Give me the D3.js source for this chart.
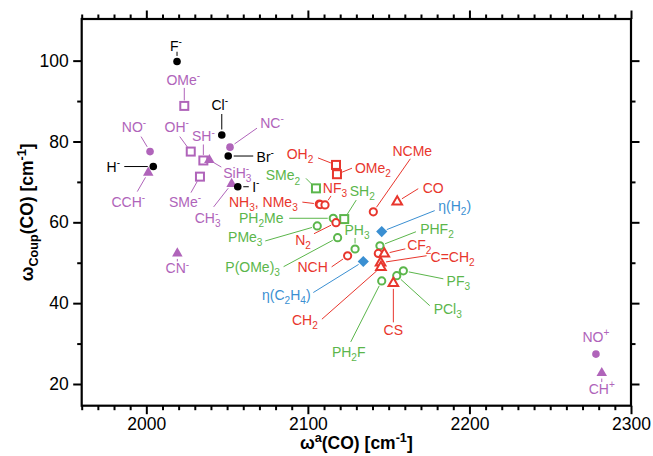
<!DOCTYPE html>
<html>
<head>
<meta charset="utf-8">
<script src="https://cdn.jsdelivr.net/npm/d3@7"></script>
<style>
  body { margin: 0; background: #fff; }
  svg { font-family: "Liberation Sans", Arial, Helvetica, sans-serif; }
</style>
</head>
<body>
<div id="chart"></div>
<script>
// each entry: [label, omega_a(CO) in cm-1, omega_Coup(CO) in cm-1]
const halideAnions = [["F^-", 2019.0, 99.8], ["Cl^-", 2046.7, 81.6], ["Br^-", 2050.7, 76.4],
                      ["H^-", 2004.3, 73.8], ["I^-", 2056.6, 68.8]];
const ionCircles = [["NO^-", 2002.3, 77.5], ["NC^-", 2051.8, 78.6], ["NO^+", 2278.3, 27.4]];
const anionSquares = [["OMe^-", 2023.5, 88.8], ["OH^-", 2027.5, 77.5], ["SH^-", 2035.3, 75.3],
                      ["SMe^-", 2033.2, 71.3]];
const ionTriangles = [["SiH_3^-", 2039.0, 75.4], ["CCH^-", 2001.2, 72.3], ["CH_3^-", 2052.8, 69.5],
                      ["CN^-", 2019.2, 52.3], ["CH^+", 2281.9, 22.7]];
const nDonors = [["NH_3, NMe_3", 2107.1, 64.5], ["", 2107.6, 64.4], ["NF_3", 2110.6, 64.3],
                 ["N_2", 2117.4, 59.9], ["NCH", 2124.6, 51.7], ["NCMe", 2140.5, 62.6], ["", 2143.6, 52.3]];
const oDonors = [["OH_2", 2117.4, 74.2], ["OMe_2", 2118.0, 71.9]];
const cDonors = [["CO", 2155.3, 65.1], ["CF_2", 2147.3, 52.2], ["C=CH_2", 2145.0, 50.0],
                 ["CH_2", 2145.2, 48.9], ["CS", 2152.9, 44.9]];
const pDonors = [["PH_2Me", 2115.7, 61.0], ["PMe_3", 2105.8, 59.1], ["P(OMe)_3", 2118.4, 56.2],
                 ["PH_3", 2129.2, 53.4], ["PHF_2", 2144.6, 54.2], ["PH_2F", 2145.7, 45.5],
                 ["PCl_3", 2155.0, 46.8], ["PF_3", 2159.1, 48.0]];
const sDonors = [["SMe_2", 2105.0, 68.4], ["SH_2", 2122.5, 60.8]];
const etaLigands = [["η(H_2)", 2145.7, 57.7], ["η(C_2H_4)", 2134.3, 50.3]];

const xTicks = [2000, 2100, 2200, 2300];
const yTicks = [20, 40, 60, 80, 100];

// label placement: [label dx, label dy, leader end dx, leader end dy] in px from the point
const labelLayout = {
  "F^-": [-1, -15.7, 0, -9.7], "Cl^-": [-2, -30, 0, -21], "Br^-": [37, 1, 25, 0],
  "H^-": [-40, 0, -29, 0], "I^-": [18, 0, 11, 0],
  "NO^-": [-16, -25, -9, -15], "NC^-": [42, -24, 27, -19], "NO^+": [0, -17, null, null],
  "OMe^-": [-1, -26, 0, -18], "OH^-": [-14, -25, -11, -15], "SH^-": [0, -24, 0, -16],
  "SMe^-": [-15, 25, -9, 16], "SiH_3^-": [28, 13, 12, 7], "CCH^-": [-20, 29, -11, 19],
  "CH_3^-": [-24, 34, -18, 23], "CN^-": [0, 15, 0, 8], "CH^+": [0, 16, 0, 9],
  "OH_2": [-36, -11, -18, -7], "OMe_2": [36, -6, 15, -6],
  "NH_3, NMe_3": [-56, -2, -17, -2], "NF_3": [10, -17, 6, -9], "N_2": [-33, 17, -22, 11],
  "NCH": [-35, 11, -16, 11], "NCMe": [39, -61, 37, -53],
  "CO": [36, -14, 21, -13], "CF_2": [35, -9, 21, -5], "C=CH_2": [72, -6, 46, -7],
  "CH_2": [-76, 53, -59, 52], "CS": [0, 47, 0, 39],
  "SMe_2": [-33, -13, -10, -10], "SH_2": [18, -28, 12, -19],
  "PH_2Me": [-72, 0, -44, 0], "PMe_3": [-72, 11, -52, 15], "P(OMe)_3": [-85, 29, -54, 29],
  "PH_3": [2, -19, 0, -11], "PHF_2": [57, -17, 36, -14], "PF_3": [55, 10, 40, 8],
  "PCl_3": [51, 33, 33, 30], "PH_2F": [-33, 71, -31, 61],
  "η(H_2)": [73, -26, 53, -21], "η(C_2H_4)": [-77, 33, -50, 31]
};

const purple = "#b064ba", red = "#e8362d", green = "#5bb64b", blue = "#3a8fd2";

const groups = [
  { data: pDonors, color: green, shape: "circle", filled: false },
  { data: sDonors, color: green, shape: "square", filled: false },
  { data: nDonors, color: red, shape: "circle", filled: false },
  { data: oDonors, color: red, shape: "square", filled: false },
  { data: etaLigands, color: blue, shape: "diamond", filled: true },
  { data: cDonors, color: red, shape: "triangle", filled: false },
  { data: anionSquares, color: purple, shape: "square", filled: false },
  { data: ionTriangles, color: purple, shape: "triangle", filled: true },
  { data: ionCircles, color: purple, shape: "circle", filled: true },
  { data: halideAnions, color: "#000", shape: "circle", filled: true }
];

const width = 653, height = 456;
const plot = { left: 81.7, right: 631, top: 19, bottom: 405.7 };

const svg = d3.select("#chart").append("svg")
  .attr("width", width)
  .attr("height", height);

const x = d3.scaleLinear().domain([1960, 2300]).range([plot.left, plot.right]);
const y = d3.scaleLinear().domain([14.63, 110.3]).range([plot.bottom, plot.top]);

// writes "OH_2", "F^-", "cm^{-1}" as tspans with sub/superscripts
function richText(sel, str, size) {
  const parts = str.match(/_\{[^}]*\}|_.|\^\{[^}]*\}|\^.|[^_^]+/g) || [];
  let shift = 0, prevSub = 0;
  parts.forEach(function (p) {
    let mode = "n", t = p;
    if (p[0] === "_") { mode = "sub"; t = p.slice(1).replace(/[{}]/g, ""); }
    else if (p[0] === "^") { mode = "sup"; t = p.slice(1).replace(/[{}]/g, ""); }
    const target = mode === "sub" ? size * 0.3 : mode === "sup" ? -size * 0.42 : 0;
    const ts = sel.append("tspan").text(t).attr("dy", target - shift);
    if (mode !== "n") ts.attr("font-size", size * 0.72);
    if (mode === "sup" && prevSub) ts.attr("dx", -prevSub);
    prevSub = mode === "sub" ? t.length * size * 0.72 * 0.556 : 0;
    shift = target;
  });
}

// ---- axes ----
const minorX = d3.range(1960, 2301, 10).filter(v => v % 100 !== 0);
const minorY = d3.range(30, 101, 20);

function styleAxis(g) {
  g.select(".domain").remove();
  g.selectAll(".tick line").attr("stroke", "#000").attr("stroke-width", 2);
  g.selectAll(".tick text").attr("font-size", 17.5).attr("fill", "#000")
    .attr("font-family", "'Liberation Sans', Arial, sans-serif");
}

svg.append("g").attr("transform", "translate(0," + plot.bottom + ")")
  .call(d3.axisBottom(x).tickValues(xTicks).tickSize(8.5).tickPadding(3).tickFormat(d3.format("d")))
  .call(styleAxis);
svg.append("g").attr("transform", "translate(0," + plot.bottom + ")")
  .call(d3.axisBottom(x).tickValues(minorX).tickSize(4.5).tickFormat(""))
  .call(styleAxis);
svg.append("g").attr("transform", "translate(0," + plot.top + ")")
  .call(d3.axisTop(x).tickValues(xTicks).tickSize(8.5).tickFormat(""))
  .call(styleAxis);
svg.append("g").attr("transform", "translate(0," + plot.top + ")")
  .call(d3.axisTop(x).tickValues(minorX).tickSize(4.5).tickFormat(""))
  .call(styleAxis);
svg.append("g").attr("transform", "translate(" + plot.left + ",0)")
  .call(d3.axisLeft(y).tickValues(yTicks).tickSize(8.5).tickPadding(4.5))
  .call(styleAxis);
svg.append("g").attr("transform", "translate(" + plot.left + ",0)")
  .call(d3.axisLeft(y).tickValues(minorY).tickSize(4.5).tickFormat(""))
  .call(styleAxis);
svg.append("g").attr("transform", "translate(" + plot.right + ",0)")
  .call(d3.axisRight(y).tickValues(yTicks).tickSize(8.5).tickFormat(""))
  .call(styleAxis);
svg.append("g").attr("transform", "translate(" + plot.right + ",0)")
  .call(d3.axisRight(y).tickValues(minorY).tickSize(4.5).tickFormat(""))
  .call(styleAxis);

svg.append("rect")
  .attr("x", plot.left).attr("y", plot.top)
  .attr("width", plot.right - plot.left).attr("height", plot.bottom - plot.top)
  .attr("fill", "none").attr("stroke", "#000").attr("stroke-width", 2.2);

// axis titles
const xTitle = svg.append("text")
  .attr("x", (plot.left + plot.right) / 2).attr("y", 449)
  .attr("text-anchor", "middle").attr("font-size", 17.5).attr("font-weight", "bold");
richText(xTitle, "ω^a(CO) [cm^{-1}]", 17.5);

const yTitle = svg.append("text")
  .attr("transform", "translate(33," + (plot.top + plot.bottom) / 2 + ") rotate(-90)")
  .attr("text-anchor", "middle").attr("font-size", 17.5).attr("font-weight", "bold");
richText(yTitle, "ω_{Coup}(CO) [cm^{-1}]", 17.5);

// ---- leaders ----
const leaders = svg.append("g");
groups.forEach(function (grp) {
  grp.data.forEach(function (d) {
    const lay = labelLayout[d[0]];
    if (!lay || lay[2] === null) return;
    const px = x(d[1]), py = y(d[2]);
    const len = Math.hypot(lay[2], lay[3]);
    const r = 5.5;
    if (len <= r) return;
    leaders.append("line")
      .attr("x1", px + lay[2] / len * r).attr("y1", py + lay[3] / len * r)
      .attr("x2", px + lay[2]).attr("y2", py + lay[3])
      .attr("stroke", grp.color).attr("stroke-width", 1);
  });
});

// ---- markers ----
const marks = svg.append("g");
groups.forEach(function (grp) {
  const sel = marks.selectAll(null).data(grp.data).enter();
  const fill = grp.filled ? grp.color : "#fff";
  const sw = grp.filled ? 0 : 2;
  if (grp.shape === "circle") {
    sel.append("circle")
      .attr("cx", d => x(d[1])).attr("cy", d => y(d[2]))
      .attr("r", grp.filled ? 3.8 : 3.6)
      .attr("fill", fill).attr("stroke", grp.color).attr("stroke-width", sw);
  } else if (grp.shape === "square") {
    sel.append("rect")
      .attr("x", d => x(d[1]) - 4).attr("y", d => y(d[2]) - 4)
      .attr("width", 8).attr("height", 8)
      .attr("fill", fill).attr("stroke", grp.color).attr("stroke-width", sw);
  } else if (grp.shape === "triangle") {
    sel.append("path")
      .attr("d", d3.symbol(d3.symbolTriangle, grp.filled ? 48 : 40)())
      .attr("transform", d => "translate(" + x(d[1]) + "," + y(d[2]) + ")")
      .attr("fill", fill).attr("stroke", grp.color).attr("stroke-width", sw)
      .attr("stroke-linejoin", "miter");
  } else if (grp.shape === "diamond") {
    sel.append("path")
      .attr("d", "M0,-5.6L5.6,0L0,5.6L-5.6,0Z")
      .attr("transform", d => "translate(" + x(d[1]) + "," + y(d[2]) + ")")
      .attr("fill", fill);
  }
});

// ---- labels ----
const labels = svg.append("g").attr("font-size", 14);
groups.forEach(function (grp) {
  grp.data.forEach(function (d) {
    const lay = labelLayout[d[0]];
    if (!lay) return;
    const t = labels.append("text")
      .attr("x", x(d[1]) + lay[0]).attr("y", y(d[2]) + lay[1] + 5)
      .attr("text-anchor", "middle").attr("fill", grp.color);
    richText(t, d[0], 14);
  });
});
</script>
</body>
</html>
